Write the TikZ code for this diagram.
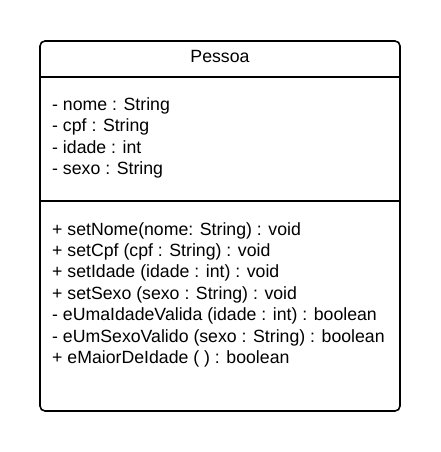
\documentclass[tikz,border=0pt]{standalone}
\usepackage{fontspec}
\setmainfont{Liberation Sans}
\usetikzlibrary{positioning}
\begin{document}
\begin{tikzpicture}[line cap=round,line join=round,x=1pt,y=-1pt,
  umltext/.style={anchor=base west,inner sep=0pt,font=\fontsize{17.7}{20}\selectfont}]
		\useasboundingbox (0,0) rectangle (440,452);
		\draw [line width=1.6pt,rounded corners=5pt] (40,41) rectangle (400,411);
		\draw [line width=1.4pt] (40,77)-- (400,77);
		\draw [line width=1.4pt] (40,201)-- (400,201);
		\node (titulo) [anchor=base,inner sep=0pt,font=\fontsize{17.7}{20}\selectfont] at (220,63) {Pessoa};
		\node (nome) [umltext] at (52,110) {- nome : String};
		\node (cpf) [umltext] at (52,131.5) {- cpf : String};
		\node (idade) [umltext] at (52,153) {- idade : int};
		\node (sexo) [umltext] at (52,174.5) {- sexo : String};
		\node (setnome) [umltext] at (52,235) {+ setNome(nome: String) : void};
		\node (setcpf) [umltext] at (52,256.5) {+ setCpf (cpf : String) : void};
		\node (setidade) [umltext] at (52,277.5) {+ setIdade (idade : int) : void};
		\node (setsexo) [umltext] at (52,299) {+ setSexo (sexo : String) : void};
		\node (idadevalida) [umltext] at (52,320.5) {- eUmaIdadeValida (idade : int) : boolean};
		\node (sexovalido) [umltext] at (52,342) {- eUmSexoValido (sexo : String) : boolean};
		\node (maior) [umltext] at (52,363.5) {+ eMaiorDeIdade ( ) : boolean};
		\end{tikzpicture}
\end{document}
